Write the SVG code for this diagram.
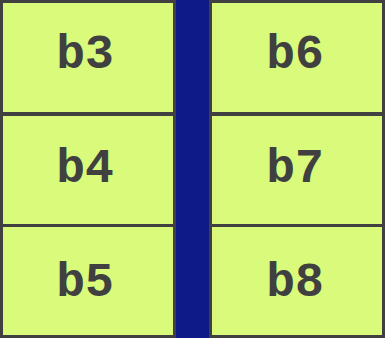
<svg xmlns="http://www.w3.org/2000/svg" width="385" height="338" viewBox="0 0 385 338">
<style>
.box rect{fill:#d9fa7b;stroke:#404040;stroke-width:3}
.box text{font-family:"Liberation Mono","Courier New",monospace;font-weight:bold;font-size:48px;fill:#404040;text-anchor:middle}
</style>
<rect x="176" y="0" width="33" height="338" fill="#0d1a88"/>
<g id="b3" class="box"><rect x="1.5" y="1.5" width="173" height="112"/><text x="85" y="68">b3</text></g>
<g id="b4" class="box"><rect x="1.5" y="114.5" width="173" height="111"/><text x="85" y="182">b4</text></g>
<g id="b5" class="box"><rect x="1.5" y="225.5" width="173" height="111"/><text x="85" y="296">b5</text></g>
<g id="b6" class="box"><rect x="210.5" y="1.5" width="173" height="112"/><text x="295" y="68">b6</text></g>
<g id="b7" class="box"><rect x="210.5" y="114.5" width="173" height="111"/><text x="295" y="182">b7</text></g>
<g id="b8" class="box"><rect x="210.5" y="225.5" width="173" height="111"/><text x="295" y="296">b8</text></g>
<g id="connectors"></g>
</svg>
